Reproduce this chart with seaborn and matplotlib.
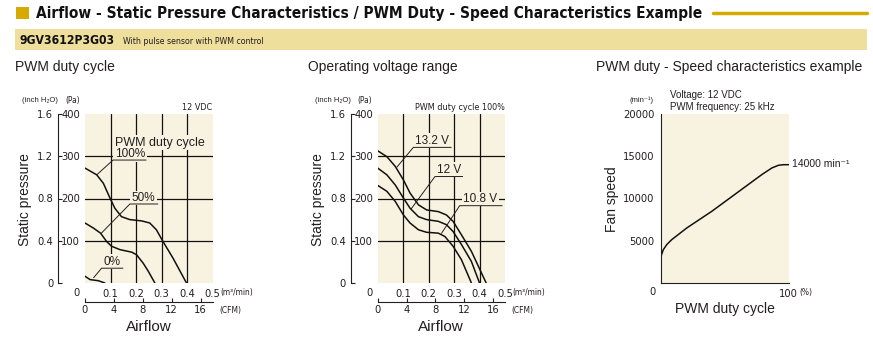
import matplotlib
matplotlib.use("Agg")
import matplotlib.pyplot as plt
import matplotlib.patches as mpatches
from matplotlib import font_manager as fm
import seaborn as sns

# ---------------- data ----------------
# Left chart: PWM duty cycle curves (x: m3/min, y: Pa)
pwm100_x = [0, 0.046, 0.072, 0.098, 0.117, 0.143, 0.176, 0.222, 0.254, 0.28, 0.306, 0.345, 0.398]
pwm100_y = [272, 256, 236, 201, 177, 157, 150, 147, 142, 126, 98, 59, 0]
pwm50_x = [0, 0.033, 0.061, 0.085, 0.104, 0.137, 0.183, 0.202, 0.228, 0.248, 0.274]
pwm50_y = [142, 130, 118, 98, 87, 79, 73, 67, 47, 28, 0]
pwm0_x = [0, 0.02, 0.052, 0.078]
pwm0_y = [16, 8, 5.5, 0]

# Middle chart: operating voltage range
v132_x = [0, 0.036, 0.069, 0.101, 0.127, 0.16, 0.192, 0.238, 0.27, 0.296, 0.329, 0.368, 0.426]
v132_y = [313, 299, 276, 244, 213, 185, 173, 169, 161, 146, 114, 75, 0]
v12_x = [0, 0.036, 0.069, 0.101, 0.127, 0.16, 0.192, 0.238, 0.27, 0.296, 0.329, 0.368, 0.4]
v12_y = [272, 256, 232, 201, 177, 157, 150, 146, 138, 122, 91, 51, 0]
v108_x = [0, 0.036, 0.069, 0.101, 0.127, 0.16, 0.192, 0.238, 0.264, 0.296, 0.329, 0.368]
v108_y = [231, 217, 193, 161, 142, 126, 120, 118, 110, 87, 55, 0]

# Right chart: PWM duty vs speed
duty = [0, 1.8, 4.5, 8.4, 20.2, 39.8, 59.4, 79, 86.9, 92.1, 96, 100]
speed = [3160, 3940, 4540, 5130, 6510, 8480, 10650, 12820, 13610, 13930, 14000, 14000]

# tick values / labels
pa_ticks = [100, 200, 300, 400]
grid_pa = [100, 200, 300]
inch_ticks = [0, 0.4, 0.8, 1.2, 1.6]
inch_labels = ["0", "0.4", "0.8", "1.2", "1.6"]
m3_ticks = [0.1, 0.2, 0.3, 0.4, 0.5]
m3_labels = ["0.1", "0.2", "0.3", "0.4", "0.5"]
grid_m3 = [0.1, 0.2, 0.3, 0.4]
cfm_ticks = [0, 4, 8, 12, 16]
speed_ticks = [5000, 10000, 15000, 20000]
duty_ticks = [0, 20, 40, 60, 80, 100]
duty_labels = ["", "", "", "", "", "100"]

# curve label annotations: text, text pos, underline x0,x1,y, leader end
left_labels = [
    ("100%", 0.117, 305, 0.11, 0.241, 291, 0.046, 256),
    ("50%", 0.183, 201, 0.176, 0.287, 187, 0.061, 116),
    ("0%", 0.072, 50, 0.065, 0.15, 35, 0.033, 12),
]
mid_labels = [
    ("13.2 V", 0.147, 337, 0.14, 0.29, 321, 0.075, 274),
    ("12 V", 0.231, 268, 0.225, 0.335, 252, 0.131, 175),
    ("10.8 V", 0.335, 199, 0.322, 0.49, 183, 0.25, 117),
]

# ---------------- style ----------------
sns.set_style("white")


def has_font(name):
    try:
        fm.findfont(fm.FontProperties(family=name), fallback_to_default=False)
        return True
    except Exception:
        return False


def pick_narrow(bold):
    prefs = ["liberation sans narrow", "dejavu sans", "roboto condensed", "open sans condensed",
             "noto sans"]
    found = {}
    for f in fm.fontManager.ttflist:
        name = f.name.lower()
        st = f.stretch
        if isinstance(st, str):
            cond = ("condensed" in st) or ("narrow" in st)
        else:
            cond = st < 500
        cond = cond or ("narrow" in name) or ("condensed" in name)
        if not cond or "cjk" in name or "mono" in name:
            continue
        w = f.weight
        if isinstance(w, str):
            w = {"bold": 700, "normal": 400, "regular": 400, "book": 400}.get(w, 400)
        if (w >= 600) != bold or w > 750 or (not bold and w < 350):
            continue
        if f.style != "normal":
            continue
        found.setdefault(name, f.fname)
    for p in prefs:
        for n, path in found.items():
            if n.startswith(p):
                return path
    return next(iter(found.values()), None)


SANS = "Liberation Sans" if has_font("Liberation Sans") else "DejaVu Sans"
NARROW_PATH = pick_narrow(False)
NARROW_BOLD_PATH = pick_narrow(True)
plt.rcParams["font.family"] = [SANS, "DejaVu Sans"]
plt.rcParams["axes.unicode_minus"] = False


def nfp(size, bold=False):
    path = NARROW_BOLD_PATH if bold else NARROW_PATH
    if path:
        return fm.FontProperties(fname=path, size=size)
    return fm.FontProperties(family=SANS, size=size, weight="bold" if bold else "normal")


INK = "#231F20"
CREAM = "#F8F3E1"
BAND = "#EFDF9C"
GOLD = "#D6AA00"
TICK_FS = 8

W, H = 873, 341
fig = plt.figure(figsize=(W / 100, H / 100), dpi=100)
fig.patch.set_facecolor("white")


def rect(x0, y0, x1, y1):
    return [x0 / W, 1 - y1 / H, (x1 - x0) / W, (y1 - y0) / H]


def ftext(x, y, s, **kw):
    kw.setdefault("color", INK)
    kw.setdefault("va", "center")
    return fig.text(x / W, 1 - y / H, s, **kw)


def fit(t, width_px):
    r = fig.canvas.get_renderer()
    w = t.get_window_extent(r).width
    t.set_fontsize(t.get_fontsize() * width_px / w)


# ---------------- header ----------------
fig.patches.append(mpatches.Rectangle((16 / W, 1 - 19 / H), 13 / W, 12 / H,
                                      transform=fig.transFigure, color=GOLD, lw=0))
t = ftext(36, 13.5, "Airflow - Static Pressure Characteristics / PWM Duty - Speed Characteristics Example",
          fontproperties=nfp(12, bold=True), color="#111111")
fit(t, 667)
fig.add_artist(plt.Line2D([713 / W, 867 / W], [1 - 13 / H, 1 - 13 / H], color=GOLD, lw=2.5,
                          transform=fig.transFigure))
fig.patches.append(mpatches.Rectangle((15 / W, 1 - 50 / H), 852 / W, 21 / H,
                                      transform=fig.transFigure, color=BAND, lw=0))
t = ftext(20, 41, "9GV3612P3G03", fontproperties=nfp(10, bold=True), color="#111111")
fit(t, 95)
t = ftext(123, 42, "With pulse sensor with PWM control", fontproperties=nfp(6))
fit(t, 142)

ftext(15, 67, "PWM duty cycle", fontsize=10)
ftext(308, 67, "Operating voltage range", fontsize=10)
ftext(862, 67, "PWM duty - Speed characteristics example", fontsize=10, ha="right")

tick_axes = []
LABEL_BOX = dict(boxstyle="square,pad=0.12", fc=CREAM, ec="none")


# ---------------- P-Q charts ----------------
def setup_pq(ax):
    ax.set_facecolor(CREAM)
    ax.set_xlim(0, 0.5)
    ax.set_ylim(0, 400)
    for s in ax.spines.values():
        s.set_visible(False)
    ax.xaxis.remove_overlapping_locs = False
    ax.yaxis.remove_overlapping_locs = False
    ax.set_xticks(m3_ticks, labels=m3_labels)
    ax.set_yticks(pa_ticks, labels=[str(v) for v in pa_ticks])
    ax.set_xticks(grid_m3, minor=True)
    ax.set_yticks(grid_pa, minor=True)
    ax.grid(False)
    ax.grid(which="minor", color="#111111", lw=0.9)
    ax.tick_params(which="both", length=0)
    ax.tick_params(axis="x", pad=4, labelsize=TICK_FS, colors=INK)
    ax.tick_params(axis="y", pad=3.5, labelsize=TICK_FS, colors=INK)
    ax.set_xlabel("")
    ax.set_ylabel("")

    sy = ax.secondary_yaxis(-27 / 127.5, functions=(lambda p: p / 250, lambda i: i * 250))
    sy.set_yticks(inch_ticks, labels=inch_labels)
    sy.tick_params(direction="in", length=3, width=0.8, pad=3.5, labelsize=TICK_FS, colors=INK)
    sy.spines["left"].set_linewidth(0.8)
    sy.spines["left"].set_color(INK)

    sx = ax.secondary_xaxis(-19 / 169, functions=(lambda m: m * 35.3147, lambda c: c / 35.3147))
    sx.set_xticks(cfm_ticks, labels=[str(v) for v in cfm_ticks])
    sx.tick_params(direction="in", length=3, width=0.8, pad=2.5, labelsize=TICK_FS, colors=INK)
    sx.spines["bottom"].set_linewidth(0.8)
    sx.spines["bottom"].set_color(INK)
    tick_axes.extend([ax, sx, sy])


def annotate(ax, labels, fs):
    for txt, tx, ty, ux0, ux1, uy, cx, cy in labels:
        ax.plot([cx, ux0, ux1], [cy, uy, uy], color=INK, lw=0.7, solid_capstyle="butt", zorder=4)
        ax.text(tx, ty, txt, fontsize=fs, color=INK, va="center", ha="left", bbox=LABEL_BOX,
                zorder=3)


ax1 = fig.add_axes(rect(85, 114, 212.5, 283))
setup_pq(ax1)
for xs, ys in [(pwm100_x, pwm100_y), (pwm50_x, pwm50_y), (pwm0_x, pwm0_y)]:
    sns.lineplot(x=xs, y=ys, ax=ax1, color="#111111", lw=1.1, sort=False, estimator=None)
ax1.text(0.117, 332, "PWM duty cycle", fontsize=9, color=INK, va="center", bbox=LABEL_BOX, zorder=3)
annotate(ax1, left_labels, 8.5)

ax2 = fig.add_axes(rect(377.7, 114, 505, 283))
setup_pq(ax2)
for xs, ys in [(v132_x, v132_y), (v12_x, v12_y), (v108_x, v108_y)]:
    sns.lineplot(x=xs, y=ys, ax=ax2, color="#111111", lw=1.1, sort=False, estimator=None)
annotate(ax2, mid_labels, 8.5)

for ox in (0, 292.7):
    ftext(22 + ox, 100, "(inch H₂O)", fontsize=5.5, family=[SANS, "DejaVu Sans"])
    ftext(65 + ox, 100, "(Pa)", fontproperties=nfp(6))
    ftext(77 + ox, 293, "0", fontproperties=nfp(TICK_FS), ha="center")
    ftext(220 + ox, 293, "(m³/min)", fontproperties=nfp(6))
    ftext(219 + ox, 311, "(CFM)", fontproperties=nfp(6))
    ftext(148.5 + ox, 327, "Airflow", fontsize=11, ha="center")
    ftext(25 + ox, 200, "Static pressure", fontsize=10, ha="center", rotation=90)
ftext(212, 108, "12 VDC", fontproperties=nfp(6.5), ha="right")
ftext(505, 108, "PWM duty cycle 100%", fontproperties=nfp(6.5), ha="right")

# ---------------- speed chart ----------------
ax3 = fig.add_axes(rect(661, 114, 788.5, 283))
ax3.set_facecolor(CREAM)
sns.lineplot(x=duty, y=speed, ax=ax3, color="#111111", lw=1.1, sort=False, estimator=None)
ax3.set_xlim(0, 100)
ax3.set_ylim(0, 20000)
ax3.grid(False)
for k in ("top", "right"):
    ax3.spines[k].set_visible(False)
for k in ("left", "bottom"):
    ax3.spines[k].set_linewidth(0.8)
    ax3.spines[k].set_color(INK)
ax3.set_yticks(speed_ticks, labels=[str(v) for v in speed_ticks])
ax3.set_xticks(duty_ticks, labels=duty_labels)
ax3.tick_params(axis="y", direction="out", length=3.5, width=0.8, pad=1, labelsize=TICK_FS,
                colors=INK)
ax3.tick_params(axis="x", direction="in", length=2.5, width=0.8, pad=4.5, labelsize=TICK_FS,
                colors=INK)
ax3.set_xlabel("")
ax3.set_ylabel("")
tick_axes.append(ax3)

ftext(653, 292, "0", fontproperties=nfp(TICK_FS), ha="center")
ftext(799, 292, "(%)", fontproperties=nfp(6))
ftext(630, 100, "(min⁻¹)", fontsize=5.5, family=[SANS, "DejaVu Sans"])
ftext(670, 95, "Voltage: 12 VDC", fontsize=7)
ftext(670, 107, "PWM frequency: 25 kHz", fontsize=7)
ftext(792, 164, "14000 min⁻¹", fontsize=7.5, family=[SANS, "DejaVu Sans"])
ftext(612, 199, "Fan speed", fontsize=10, ha="center", rotation=90)
ftext(724.7, 309, "PWM duty cycle", fontsize=10, ha="center")

# narrow font for all tick labels
fig.canvas.draw()
for a in tick_axes:
    for lab in a.get_xticklabels() + a.get_yticklabels():
        lab.set_fontproperties(nfp(TICK_FS))

fig.savefig("out.png", dpi=100)
